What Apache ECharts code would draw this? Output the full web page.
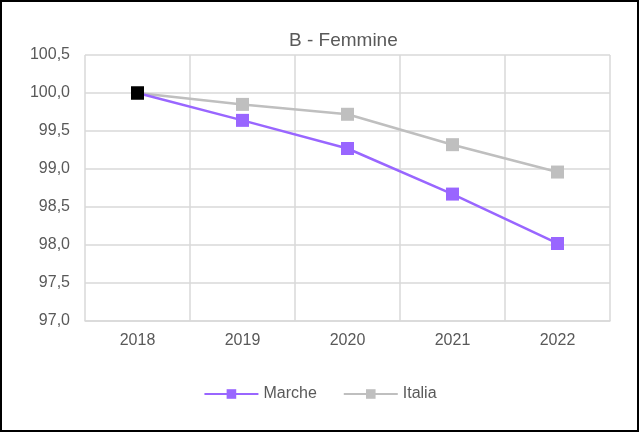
<!DOCTYPE html>
<html><head><meta charset="utf-8">
<script src="https://cdn.jsdelivr.net/npm/echarts@6/dist/echarts.min.js"></script>
<style>html,body{margin:0;padding:0;background:#fff}#c{width:640px;height:434px}</style>
</head><body><div id="c"></div>
<script>
const categories = ['2018','2019','2020','2021','2022'];
const marche = [100.0, 99.64, 99.27, 98.67, 98.02];
const italia = [100.0, 99.85, 99.72, 99.32, 98.96];
const titleText = 'B - Femmine';
const seriesNames = ['Marche','Italia'];

const chart = echarts.init(document.getElementById('c'), null, {renderer:'canvas'});
const FONT = '"Liberation Sans", Arial, sans-serif';
function withFirstBlack(arr){
  return arr.map((v,i)=> i===0 ? {value:v, itemStyle:{color:'#000'}} : v);
}
chart.setOption({
  animation:false,
  backgroundColor:'#fff',
  title:{text:titleText,left:284,top:26,textStyle:{fontFamily:FONT,fontSize:19,fontWeight:'normal',color:'#595959'}},
  graphic:[{type:'rect',shape:{x:1,y:1,width:637,height:430},style:{fill:'none',stroke:'#000',lineWidth:2},silent:true}],
  grid:{left:85,right:30,top:55,bottom:113,containLabel:false},
  legend:{bottom:27,left:'center',itemWidth:54,itemHeight:12,itemGap:26,
    textStyle:{fontFamily:FONT,fontSize:16,color:'#595959'},data:seriesNames},
  xAxis:{type:'category',data:categories,boundaryGap:true,
    axisLine:{lineStyle:{color:'#d9d9d9',width:1.5}},axisTick:{show:false},
    splitLine:{show:true,interval:0,lineStyle:{color:'#d9d9d9',width:1.5}},
    axisLabel:{fontFamily:FONT,fontSize:16,color:'#595959',margin:12}},
  yAxis:{type:'value',min:97,max:100.5,interval:0.5,
    axisLine:{show:false},axisTick:{show:false},
    splitLine:{lineStyle:{color:'#d9d9d9',width:1.5}},
    axisLabel:{fontFamily:FONT,fontSize:16,color:'#595959',margin:15,
      formatter:v=>v.toFixed(1).replace('.',',')}},
  series:[
    {name:'Marche',type:'line',data:withFirstBlack(marche),symbol:'rect',symbolSize:13,
      lineStyle:{color:'#9966ff',width:2.5},itemStyle:{color:'#9966ff'},z:3},
    {name:'Italia',type:'line',data:withFirstBlack(italia),symbol:'rect',symbolSize:13,
      lineStyle:{color:'#bfbfbf',width:2.5},itemStyle:{color:'#bfbfbf'},z:2}
  ]
});
</script></body></html>
